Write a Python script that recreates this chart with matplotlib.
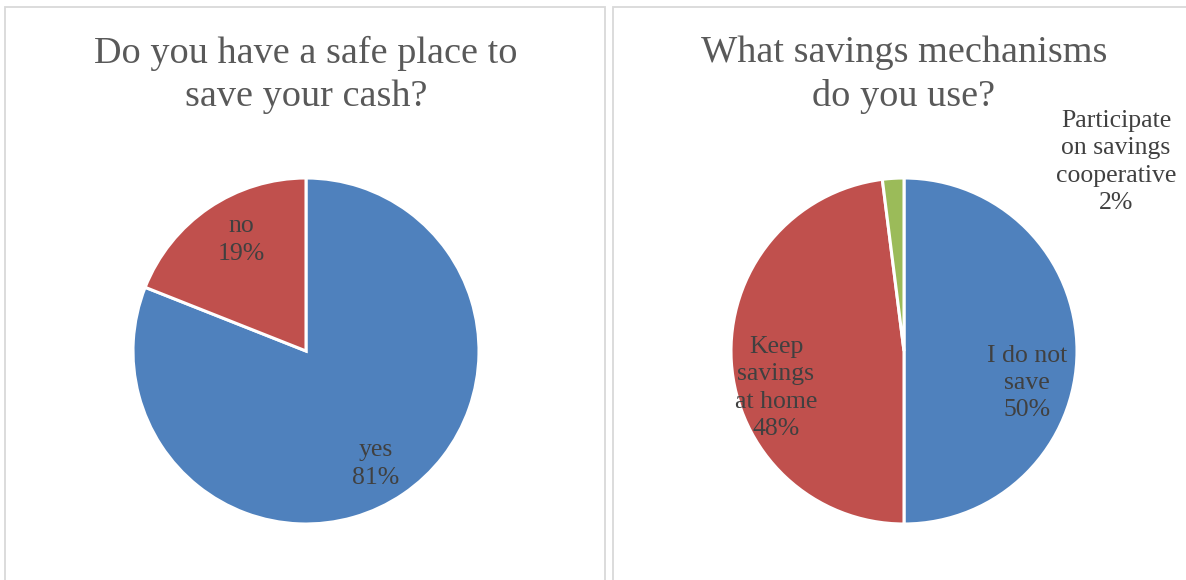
import matplotlib
matplotlib.use("Agg")
import matplotlib.pyplot as plt
from matplotlib.patches import Rectangle

# Survey results
safe_labels = ["yes", "no"]
safe_values = [81, 19]

mech_labels = ["I do not\nsave", "Keep\nsavings\nat home", "Participate\non savings\ncooperative"]
mech_values = [50, 48, 2]

colors = ["#4F81BD", "#C0504D", "#9BBB59"]
FONT = "Liberation Serif"

W, H = 1186, 580
fig = plt.figure(figsize=(W / 100, H / 100), dpi=100)
ax = fig.add_axes([0, 0, 1, 1])

# panel frames
for x0, x1 in [(5, 605), (613, 1200)]:
    ax.add_patch(Rectangle((x0, -10), x1 - x0, H - 7 + 10, fill=False,
                           edgecolor="#D9D9D9", lw=1.3))

def draw_pie(cx, cy, r, values, labels, title, label_pos):
    total = sum(values)
    ax.pie(values, colors=colors[:len(values)], startangle=90,
           counterclock=False, center=(cx, cy), radius=r,
           wedgeprops=dict(edgecolor="white", linewidth=2.2), frame=True)
    for lab, v, (px, py) in zip(labels, values, label_pos):
        ax.text(px, H - py, f"{lab}\n{round(100 * v / total)}%", ha="center",
                va="center", fontsize=18.5, family=FONT, color="#404040",
                linespacing=1.3)
    ax.text(cx, H - 75, title, ha="center", va="center", fontsize=27.5,
            family=FONT, color="#595959", linespacing=1.32)

draw_pie(306, H - 351, 173, safe_values, safe_labels,
         "Do you have a safe place to\nsave your cash?",
         [(376, 464), (241, 240)])
draw_pie(904, H - 351, 173, mech_values, mech_labels,
         "What savings mechanisms\ndo you use?",
         [(1027, 383), (776, 388), (1116, 162)])

ax.set_xlim(0, W)
ax.set_ylim(0, H)
ax.set_aspect("equal")
ax.axis("off")
fig.savefig("out.png", dpi=100)
